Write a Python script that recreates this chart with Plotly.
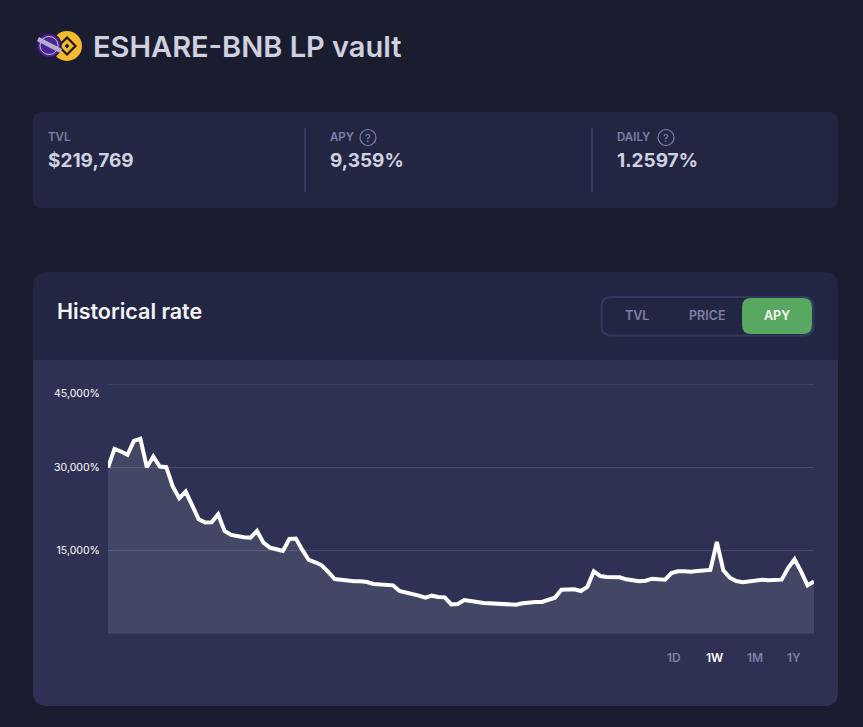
import plotly.graph_objects as go

W, H = 863, 727

hours = list(range(110))
apy = [
    29939, 33313, 32831, 32228, 34758, 35120, 30000, 31927, 30120, 30000,
    26506, 24397, 25602, 23192, 20602, 20000, 20060, 21506, 18494, 17771,
    17530, 17349, 17289, 18494, 16385, 15482, 15181, 14879, 17048, 17108,
    15060, 13253, 12831, 12289, 11084, 9819, 9699, 9458, 9397, 9397,
    9277, 8916, 8795, 8735, 8675, 7650, 7410, 7169, 6807, 6446,
    6807, 6566, 6506, 5241, 5301, 6024, 5904, 5663, 5482, 5422,
    5361, 5241, 5181, 5181, 5422, 5602, 5663, 5663, 6024, 6446,
    7892, 7892, 7952, 7650, 8373, 11205, 10361, 10181, 10120, 10120,
    9759, 9578, 9397, 9518, 9879, 9759, 9699, 10903, 11205, 11205,
    11144, 11265, 11446, 11446, 16506, 11385, 10060, 9458, 9217, 9397,
    9638, 9699, 9578, 9638, 9699, 11807, 13373, 11205, 8675, 9359,
]
y_ticks = [0, 15000, 30000, 45000]
y_labels = ["", "15,000%", "30,000%", ""]
stats = [("TVL", "$219,769"), ("APY", "9,359%"), ("DAILY", "1.2597%")]
metrics = ["TVL", "PRICE", "APY"]
ranges = ["1D", "1W", "1M", "1Y"]
FONT = "Inter, Lato, sans-serif"

BG, CARD, PANEL = "#1a1d2f", "#232643", "#2e3153"
MUTED, LIGHT = "#7c80a6", "#d0d1e0"
GRID = "#484b6c"


def px(x):
    return x / W


def py(y):
    return 1 - y / H


def rr(x0, y0, x1, y1, r=None, tl=0, tr=0, br=0, bl=0):
    if r is not None:
        tl = tr = br = bl = r
    def X(v):
        return f"{px(v):.5f}"
    def Y(v):
        return f"{py(v):.5f}"
    return (
        f"M{X(x0 + tl)},{Y(y0)} L{X(x1 - tr)},{Y(y0)} Q{X(x1)},{Y(y0)} {X(x1)},{Y(y0 + tr)} "
        f"L{X(x1)},{Y(y1 - br)} Q{X(x1)},{Y(y1)} {X(x1 - br)},{Y(y1)} "
        f"L{X(x0 + bl)},{Y(y1)} Q{X(x0)},{Y(y1)} {X(x0)},{Y(y1 - bl)} "
        f"L{X(x0)},{Y(y0 + tl)} Q{X(x0)},{Y(y0)} {X(x0 + tl)},{Y(y0)} Z"
    )


shapes = []


def path(d, fill, line="rgba(0,0,0,0)", lw=0):
    shapes.append(dict(type="path", xref="paper", yref="paper", path=d, fillcolor=fill,
                       line=dict(color=line, width=lw), layer="below"))


def circle(cx, cy, r, fill="rgba(0,0,0,0)", line="rgba(0,0,0,0)", lw=0):
    shapes.append(dict(type="circle", xref="paper", yref="paper",
                       x0=px(cx - r), x1=px(cx + r), y0=py(cy + r), y1=py(cy - r),
                       fillcolor=fill, line=dict(color=line, width=lw), layer="below"))


def diamond(cx, cy, r, fill, line="rgba(0,0,0,0)", lw=0):
    d = (f"M{px(cx):.5f},{py(cy - r):.5f} L{px(cx + r):.5f},{py(cy):.5f} "
         f"L{px(cx):.5f},{py(cy + r):.5f} L{px(cx - r):.5f},{py(cy):.5f} Z")
    path(d, fill, line, lw)


# cards
path(rr(33, 112, 838, 208, r=9), CARD)
path(rr(33, 272, 838, 362, tl=14, tr=14), CARD)
path(rr(33, 360, 838, 706, bl=14, br=14), PANEL)
for dx in (305, 592):
    path(rr(dx - 0.7, 128, dx + 0.7, 192, r=0), "#41446a")

# toggle
path(rr(601.5, 297, 813.5, 335.5, r=10), CARD, "#33375e", 2)
path(rr(742, 298, 812, 334, r=9), "#59a862")

# icons
circle(67, 46, 15, "#f3ba2f")
diamond(67, 46, 8.5, "rgba(0,0,0,0)", "#1f1a10", 2.2)
diamond(67, 46, 2.4, "#1f1a10")
circle(49, 45.5, 12, "#4b2a8c", "#2a1650", 1.5)
circle(49, 45.5, 9, "#4b2590", "#c9b8ea", 1)
shapes.append(dict(type="line", xref="paper", yref="paper", x0=px(38), x1=px(61),
                   y0=py(39), y1=py(51), line=dict(color="#b7add0", width=4.5), layer="below"))

# help marks
for cx in (368, 666):
    circle(cx, 137.5, 8, line=MUTED, lw=1.2)

# edge gridlines, which plotly drops from its own grid at the ends of the range
for level in (y_ticks[0], y_ticks[-1]):
    shapes.append(dict(type="line", xref="x", yref="y", x0=hours[0], x1=hours[-1], y0=level, y1=level,
                       line=dict(color=GRID, width=1), layer="below"))

annotations = []


def text(x, y, s, size, color, anchor="left", weight=400):
    annotations.append(dict(xref="paper", yref="paper", x=px(x), y=py(y), text=s, showarrow=False,
                            xanchor=anchor, yanchor="middle",
                            font=dict(family=FONT, size=size, color=color, weight=weight)))


text(91, 46, "ESHARE-BNB LP vault", 29, "#cfd0df", weight=600)
for x, (label, value) in zip((45.5, 327.5, 614.5), stats):
    text(x, 137, label, 11.5, MUTED, weight=600)
    text(x, 160, value, 19, LIGHT, weight=700)
for cx in (368, 666):
    text(cx, 137.5, "?", 11, MUTED, "center", 500)
text(55, 311, "Historical rate", 21.5, "#f4f4f8", weight=600)
for x, m, c in zip((637, 707, 777), metrics, (MUTED, MUTED, "#ffffff")):
    text(x, 315.5, m, 12.5, c, "center", 600)
for x, r, c in zip((674, 714, 755, 794), ranges, (MUTED, "#ffffff", MUTED, MUTED)):
    text(x, 657, r, 12, c, "center", 600)
text(102, 393, "45,000%", 10.5, "#ffffff", "right", 400)

fig = go.Figure(go.Scatter(
    x=hours, y=apy, mode="lines", fill="tozeroy", fillcolor="rgba(255,255,255,0.1)",
    line=dict(color="#ffffff", width=4), cliponaxis=False, hoverinfo="skip",
))
fig.update_layout(
    width=W, height=H, margin=dict(l=0, r=0, t=0, b=0),
    paper_bgcolor=BG, plot_bgcolor="rgba(0,0,0,0)", showlegend=False,
    shapes=shapes, annotations=annotations, font=dict(family=FONT),
    xaxis=dict(domain=[px(108), px(814)], range=[hours[0], hours[-1]], visible=False, fixedrange=True),
    yaxis=dict(domain=[py(633.5), py(384)], range=[-20, 45020], tickvals=y_ticks, ticktext=y_labels,
               tickfont=dict(family=FONT, size=10.5, color="#ffffff"), gridcolor=GRID, gridwidth=1,
               zeroline=False, showline=False, ticks="outside", ticklen=5, tickcolor="rgba(0,0,0,0)",
               anchor="x", side="left", fixedrange=True),
)
fig.write_html("out.html", config=dict(displayModeBar=False),
               post_script="document.body.style.margin='0';document.body.style.overflow='hidden';")
